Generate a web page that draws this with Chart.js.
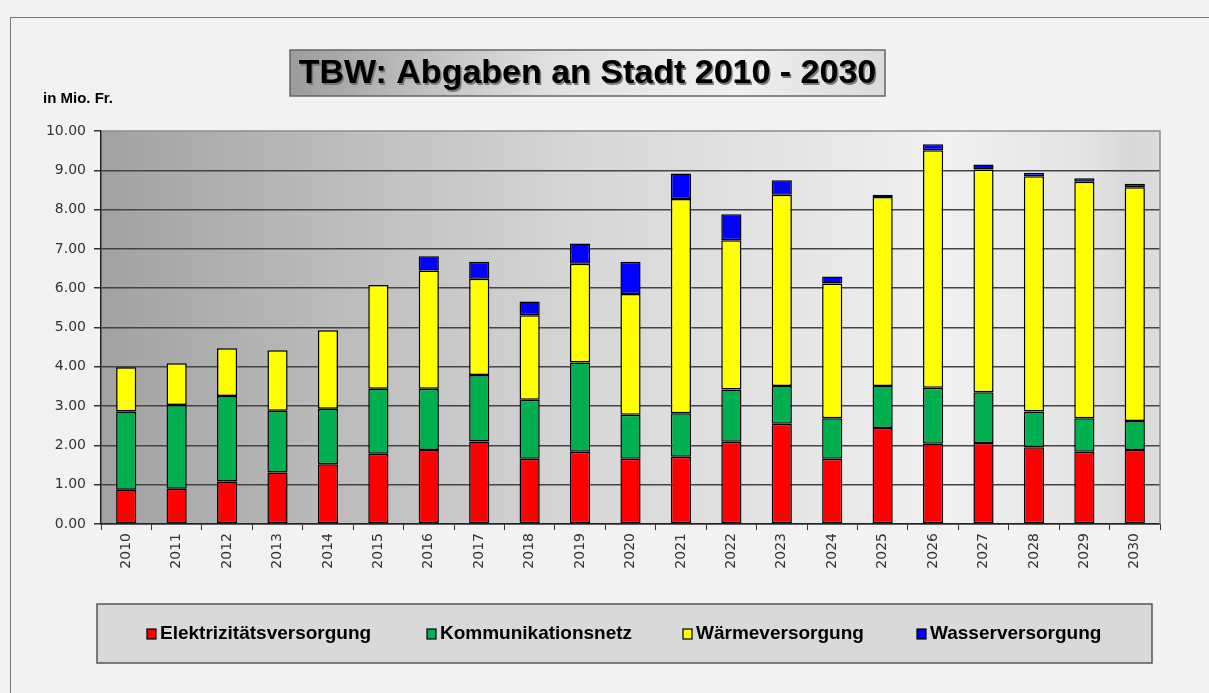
<!DOCTYPE html>
<html lang="de">
<head>
<meta charset="UTF-8">
<title>TBW: Abgaben an Stadt 2010 - 2030</title>
<script src="https://cdn.jsdelivr.net/npm/chart.js"></script>
<style>
    html, body { margin: 0; padding: 0; background: #f2f2f2; }
    .frame { position: absolute; left: 10px; top: 17px; width: 1205px; height: 690px; border: 1px solid #777; border-right: none; border-bottom: none; }
    #wrap { position: relative; width: 1209px; height: 693px; }
</style>
</head>
<body>
<div id="wrap">
    <div class="frame"></div>
    <canvas id="chart" width="1209" height="693"></canvas>
</div>
<script>
    const years = ['2010','2011','2012','2013','2014','2015','2016','2017','2018','2019','2020',
                   '2021','2022','2023','2024','2025','2026','2027','2028','2029','2030'];
    const elektrizitaet = [0.87,0.90,1.08,1.31,1.52,1.79,1.88,2.10,1.66,1.84,1.66,1.71,2.09,2.55,1.66,2.44,2.04,2.06,1.95,1.84,1.88];
    const kommunikation = [1.99,2.13,2.18,1.57,1.41,1.65,1.56,1.69,1.50,2.27,1.12,1.11,1.33,0.96,1.03,1.07,1.43,1.29,0.91,0.85,0.74];
    const waerme        = [1.13,1.06,1.21,1.54,2.00,2.64,3.01,2.45,2.15,2.51,3.07,5.45,3.80,4.87,3.43,4.81,6.04,5.67,5.99,6.02,5.95];
    const wasser        = [0,0,0,0,0,0,0.36,0.43,0.35,0.52,0.82,0.65,0.66,0.37,0.18,0.06,0.15,0.13,0.09,0.09,0.09];
    const yTicks = [0,1,2,3,4,5,6,7,8,9,10];

    const titleText = 'TBW: Abgaben an Stadt 2010 - 2030';
    const unitText = 'in Mio. Fr.';

    // plot background, title box, legend box
    const decor = {
        id: 'decor',
        beforeDraw(chart) {
            const { ctx, chartArea: a } = chart;
            ctx.save();
            const g = ctx.createLinearGradient(a.left, 0, a.right, 0);
            g.addColorStop(0, '#a2a2a2');
            g.addColorStop(0.45, '#d6d6d6');
            g.addColorStop(0.8, '#f0f0f0');
            g.addColorStop(0.93, '#e4e4e4');
            g.addColorStop(0.97, '#d8d8d8');
            g.addColorStop(1, '#dcdcdc');
            ctx.fillStyle = g;
            ctx.fillRect(a.left, a.top, a.right - a.left, a.bottom - a.top);
            ctx.restore();
        },
        afterDatasetsDraw(chart) {
            const { ctx, chartArea: a } = chart;
            ctx.save();
            // light border top / right
            ctx.strokeStyle = '#8c8c8c';
            ctx.lineWidth = 1.5;
            ctx.beginPath();
            ctx.moveTo(a.left, a.top);
            ctx.lineTo(a.right, a.top);
            ctx.lineTo(a.right, a.bottom);
            ctx.stroke();
            ctx.restore();
        },
        afterDraw(chart) {
            const { ctx } = chart;
            ctx.save();
            // title box
            const tb = { x: 290, y: 50, w: 595, h: 46 };
            const tg = ctx.createLinearGradient(tb.x, 0, tb.x + tb.w, 0);
            tg.addColorStop(0, '#9c9c9c');
            tg.addColorStop(0.45, '#e2e2e2');
            tg.addColorStop(0.75, '#f0f0f0');
            tg.addColorStop(1, '#dadada');
            ctx.fillStyle = tg;
            ctx.fillRect(tb.x, tb.y, tb.w, tb.h);
            ctx.strokeStyle = '#666';
            ctx.lineWidth = 1.5;
            ctx.strokeRect(tb.x, tb.y, tb.w, tb.h);
            ctx.font = 'bold 34px "Liberation Sans", Arial, sans-serif';
            ctx.textAlign = 'center';
            ctx.textBaseline = 'middle';
            ctx.fillStyle = '#777';
            ctx.fillText(titleText, tb.x + tb.w / 2 + 1.5, tb.y + tb.h / 2 + 2.5);
            ctx.fillStyle = '#000';
            ctx.fillText(titleText, tb.x + tb.w / 2, tb.y + tb.h / 2 + 1);

            // unit label
            ctx.font = 'bold 15px "Liberation Sans", Arial, sans-serif';
            ctx.textAlign = 'left';
            ctx.textBaseline = 'alphabetic';
            ctx.fillStyle = '#000';
            ctx.fillText(unitText, 43, 103);

            // legend box
            const lb = { x: 97, y: 604, w: 1055, h: 59 };
            ctx.fillStyle = '#d9d9d9';
            ctx.fillRect(lb.x, lb.y, lb.w, lb.h);
            ctx.strokeStyle = '#555';
            ctx.lineWidth = 1.5;
            ctx.strokeRect(lb.x, lb.y, lb.w, lb.h);
            const itemX = [147, 427, 683, 917];
            ctx.font = 'bold 19px "Liberation Sans", Arial, sans-serif';
            ctx.textBaseline = 'middle';
            chart.data.datasets.forEach((ds, i) => {
                const x = itemX[i], cy = 634;
                ctx.fillStyle = ds.backgroundColor;
                ctx.fillRect(x, cy - 5, 9, 10);
                ctx.strokeStyle = '#000';
                ctx.lineWidth = 1.2;
                ctx.strokeRect(x, cy - 5, 9, 10);
                ctx.fillStyle = '#000';
                ctx.fillText(ds.label, x + 13, cy);
            });
            ctx.restore();
        }
    };

    const font = { family: '"DejaVu Sans", Verdana, sans-serif', size: 14 };

    new Chart(document.getElementById('chart'), {
        type: 'bar',
        data: {
            labels: years,
            datasets: [
                { label: 'Elektrizitätsversorgung', data: elektrizitaet, backgroundColor: '#ff0000' },
                { label: 'Kommunikationsnetz', data: kommunikation, backgroundColor: '#00b050' },
                { label: 'Wärmeversorgung', data: waerme, backgroundColor: '#ffff00' },
                { label: 'Wasserversorgung', data: wasser, backgroundColor: '#0000ff' }
            ]
        },
        options: {
            responsive: false,
            animation: false,
            layout: { padding: { left: 0, right: 49, top: 131, bottom: 119 } },
            datasets: {
                bar: {
                    borderColor: '#000',
                    borderWidth: c => (c.raw ? 1.5 : 0),
                    borderSkipped: false,
                    categoryPercentage: 1,
                    barPercentage: 0.4
                }
            },
            plugins: {
                legend: { display: false },
                title: { display: false },
                tooltip: { enabled: false }
            },
            scales: {
                x: {
                    stacked: true,
                    afterFit: s => { s.height = 50; },
                    grid: { offset: true, drawOnChartArea: false, color: '#333', tickLength: 6, lineWidth: 1 },
                    border: { color: '#222', width: 1.5 },
                    ticks: { minRotation: 90, maxRotation: 90, color: '#333', font, padding: 3 }
                },
                y: {
                    stacked: true,
                    min: 0,
                    max: 10,
                    afterFit: s => { s.width = 101; },
                    afterBuildTicks: s => { s.ticks = yTicks.map(v => ({ value: v })); },
                    grid: {
                        color: c => c.tick && c.tick.value === 10 ? 'rgba(0,0,0,0)' : '#444',
                        tickColor: '#333',
                        lineWidth: 1.5,
                        tickLength: 7
                    },
                    border: { color: '#222', width: 1.5 },
                    ticks: { color: '#333', font, padding: 8, callback: v => v.toFixed(2) }
                }
            }
        },
        plugins: [decor]
    });
</script>
</body>
</html>
